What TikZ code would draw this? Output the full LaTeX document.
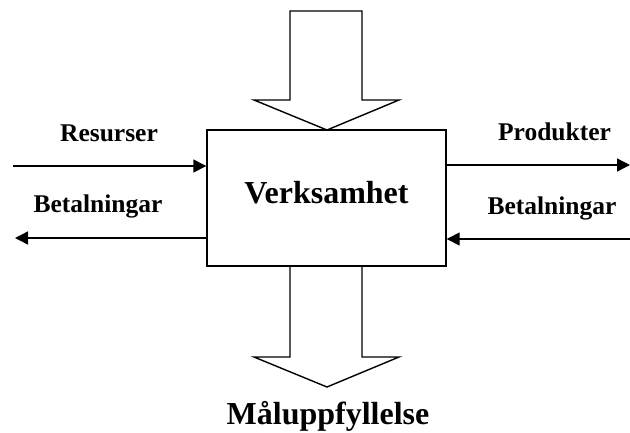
\documentclass[tikz,border=0pt]{standalone}
\usepackage{fontspec}
\setmainfont{Liberation Serif}
\usetikzlibrary{arrows.meta}
\begin{document}
\begin{tikzpicture}[x=1pt,y=-1pt,
  lbl/.style={font=\fontsize{25.5}{30}\bfseries\selectfont, anchor=base, inner sep=0pt},
  big/.style={font=\fontsize{32}{36}\bfseries\selectfont, anchor=base, inner sep=0pt},
  flow/.style={line width=1.4pt, -{Triangle[length=13pt,width=13pt]}},
  blockarrow/.style={line width=1.4pt, line join=miter}]
\useasboundingbox (0,0) rectangle (630,432);
% main box
\node[draw, line width=1.4pt, minimum width=239pt, minimum height=136pt, inner sep=0pt] (box) at (326.5,198) {};
\node[big] (verk) at (326.5,203) {Verksamhet};
% top block arrow
\draw[blockarrow] (290,11) -- (362,11) -- (362,100) -- (399,100) -- (327,130) -- (254,100) -- (290,100) -- cycle;
% bottom block arrow
\draw[blockarrow] (290,266) -- (290,357) -- (254,357) -- (327,387) -- (399,357) -- (362,357) -- (362,266);
\node[big] (mal) at (328,424) {Måluppfyllelse};
% side arrows
\coordinate (resin) at (13,166);
\coordinate (betout) at (15,238);
\coordinate (prodout) at (630,165);
\coordinate (betin) at (630,239);
\draw[flow] (resin) -- (resin -| box.west);
\draw[flow] (betout -| box.west) -- (betout);
\draw[flow] (prodout -| box.east) -- (prodout);
\draw[flow] (betin) -- (betin -| box.east);
\node[lbl] (res) at (109,141) {Resurser};
\node[lbl] (bet1) at (98,212) {Betalningar};
\node[lbl] (prod) at (554.5,140) {Produkter};
\node[lbl] (bet2) at (552,214) {Betalningar};
\end{tikzpicture}
\end{document}
